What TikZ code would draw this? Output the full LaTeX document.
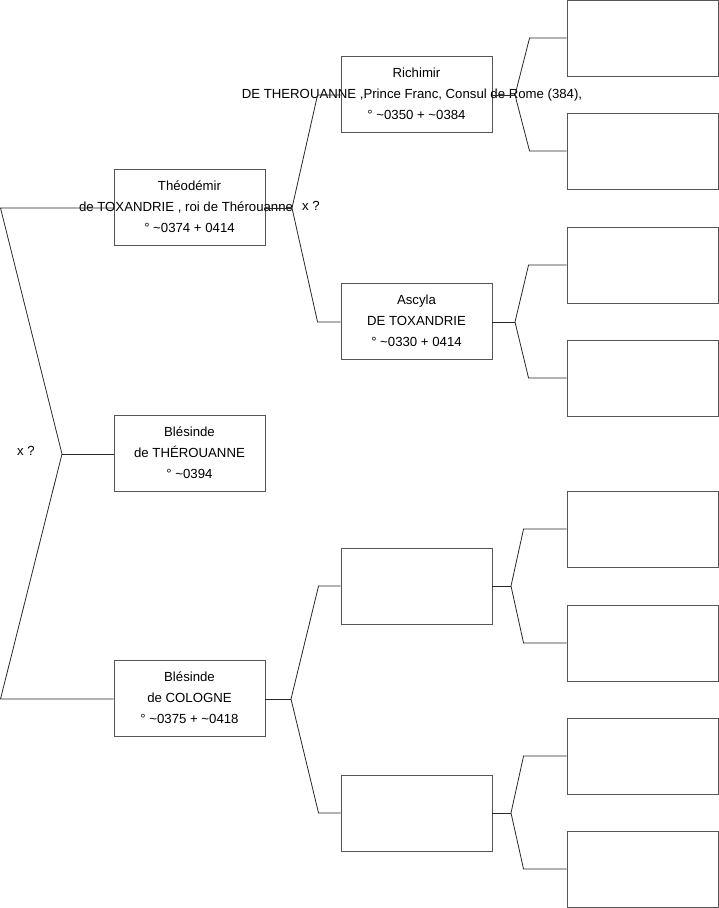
\documentclass[tikz,border=0pt]{standalone}
\usepackage{fontspec}
\setmainfont{Liberation Sans}
\usepackage{tikz}
\usetikzlibrary{calc,positioning}
\definecolor{boxline}{RGB}{85,85,85}
\definecolor{linkline}{RGB}{40,40,40}
\tikzset{
  personbox/.style={draw=boxline,line width=0.9pt,minimum width=151pt,minimum height=76pt,inner sep=0pt,align=center,font=\fontsize{13.2}{21}\selectfont},
  linkpath/.style={draw=linkline,line width=0.8pt},
  marriage/.style={inner sep=0pt,font=\fontsize{13.2}{15}\selectfont}
}

\begin{document}
\begin{tikzpicture}[x=1pt,y=-1pt]
  \useasboundingbox (0,0) rectangle (719,908);

  % --- First generation ---
  \node[personbox] (T) at (189.5,207)
    {Théodémir\\\makebox[0pt]{\hspace{-7pt}de TOXANDRIE , roi de Thérouanne}\\° \textasciitilde0374 + 0414};
  \node[personbox] (B) at (189.5,453)
    {Blésinde\\de THÉROUANNE\\° \textasciitilde0394};
  \node[personbox] (C) at (189.5,698)
    {Blésinde\\de COLOGNE\\° \textasciitilde0375 + \textasciitilde0418};

  % --- Second generation ---
  \node[personbox] (R) at (416.5,94)
    {Richimir\\\makebox[0pt]{\hspace{-9pt}DE THEROUANNE ,Prince Franc, Consul de Rome (384),}\\° \textasciitilde0350 + \textasciitilde0384};
  \node[personbox] (A) at (416.5,321)
    {Ascyla\\DE TOXANDRIE\\° \textasciitilde0330 + 0414};
  \node[personbox] (E1) at (416.5,586) {};
  \node[personbox] (E2) at (416.5,813) {};

  % --- Third generation (empty) ---
  \node[personbox] (R1) at (642.5,38.5) {};
  \node[personbox] (R2) at (642.5,151) {};
  \node[personbox] (A1) at (642.5,265) {};
  \node[personbox] (A2) at (642.5,378) {};
  \node[personbox] (E11) at (642.5,529) {};
  \node[personbox] (E12) at (642.5,643) {};
  \node[personbox] (E21) at (642.5,756) {};
  \node[personbox] (E22) at (642.5,869) {};

  % --- Marriage labels ---
  \node[marriage] (xroot) at (26,451) {x ?};
  \node[marriage] (xT) at (311,206) {x ?};

  % --- Fork points ---
  \coordinate (f0) at (62,454);
  \coordinate (rT) at (0.5,208);
  \coordinate (rC) at (0.5,699);
  \coordinate (fT) at (292,208);
  \coordinate (fC) at (291,699);
  \coordinate (fR) at (515,95);
  \coordinate (fA) at (515,322);
  \coordinate (fE1) at (511,586);
  \coordinate (fE2) at (511,813);

  % --- Parents of Théodémir / Blésinde ---
  \draw[linkpath] (T.west |- rT) -- (rT) -- (f0) -- (rC) -- (C.west |- rC);
  \draw[linkpath] (f0) -- (B.west |- f0);

  % --- Parents of Théodémir ---
  \draw[linkpath] (T.east |- fT) -- (fT);
  \draw[linkpath] (R.west |- fR) -- ++(-23,0) -- (fT) -- ($(A.west |- fA)+(-23,0)$) -- (A.west |- fA);

  % --- Parents of Blésinde de Cologne ---
  \draw[linkpath] (C.east |- fC) -- (fC);
  \draw[linkpath] (E1.west) -- ++(-22,0) -- (fC) -- ($(E2.west)+(-22,0)$) -- (E2.west);

  % --- Third generation links ---
  \draw[linkpath] (R.east |- fR) -- (fR);
  \draw[linkpath] ($(R1.west |- 0,38)$) -- ++(-37,0) -- (fR) -- ($(R2.west)+(-37,0)$) -- (R2.west);
  \draw[linkpath] (A.east |- fA) -- (fA);
  \draw[linkpath] (A1.west) -- ++(-38,0) -- (fA) -- ($(A2.west)+(-38,0)$) -- (A2.west);
  \draw[linkpath] (E1.east) -- (fE1);
  \draw[linkpath] (E11.west) -- ++(-43,0) -- (fE1) -- ($(E12.west)+(-43,0)$) -- (E12.west);
  \draw[linkpath] (E2.east) -- (fE2);
  \draw[linkpath] (E21.west) -- ++(-43,0) -- (fE2) -- ($(E22.west)+(-43,0)$) -- (E22.west);

\end{tikzpicture}
\end{document}
